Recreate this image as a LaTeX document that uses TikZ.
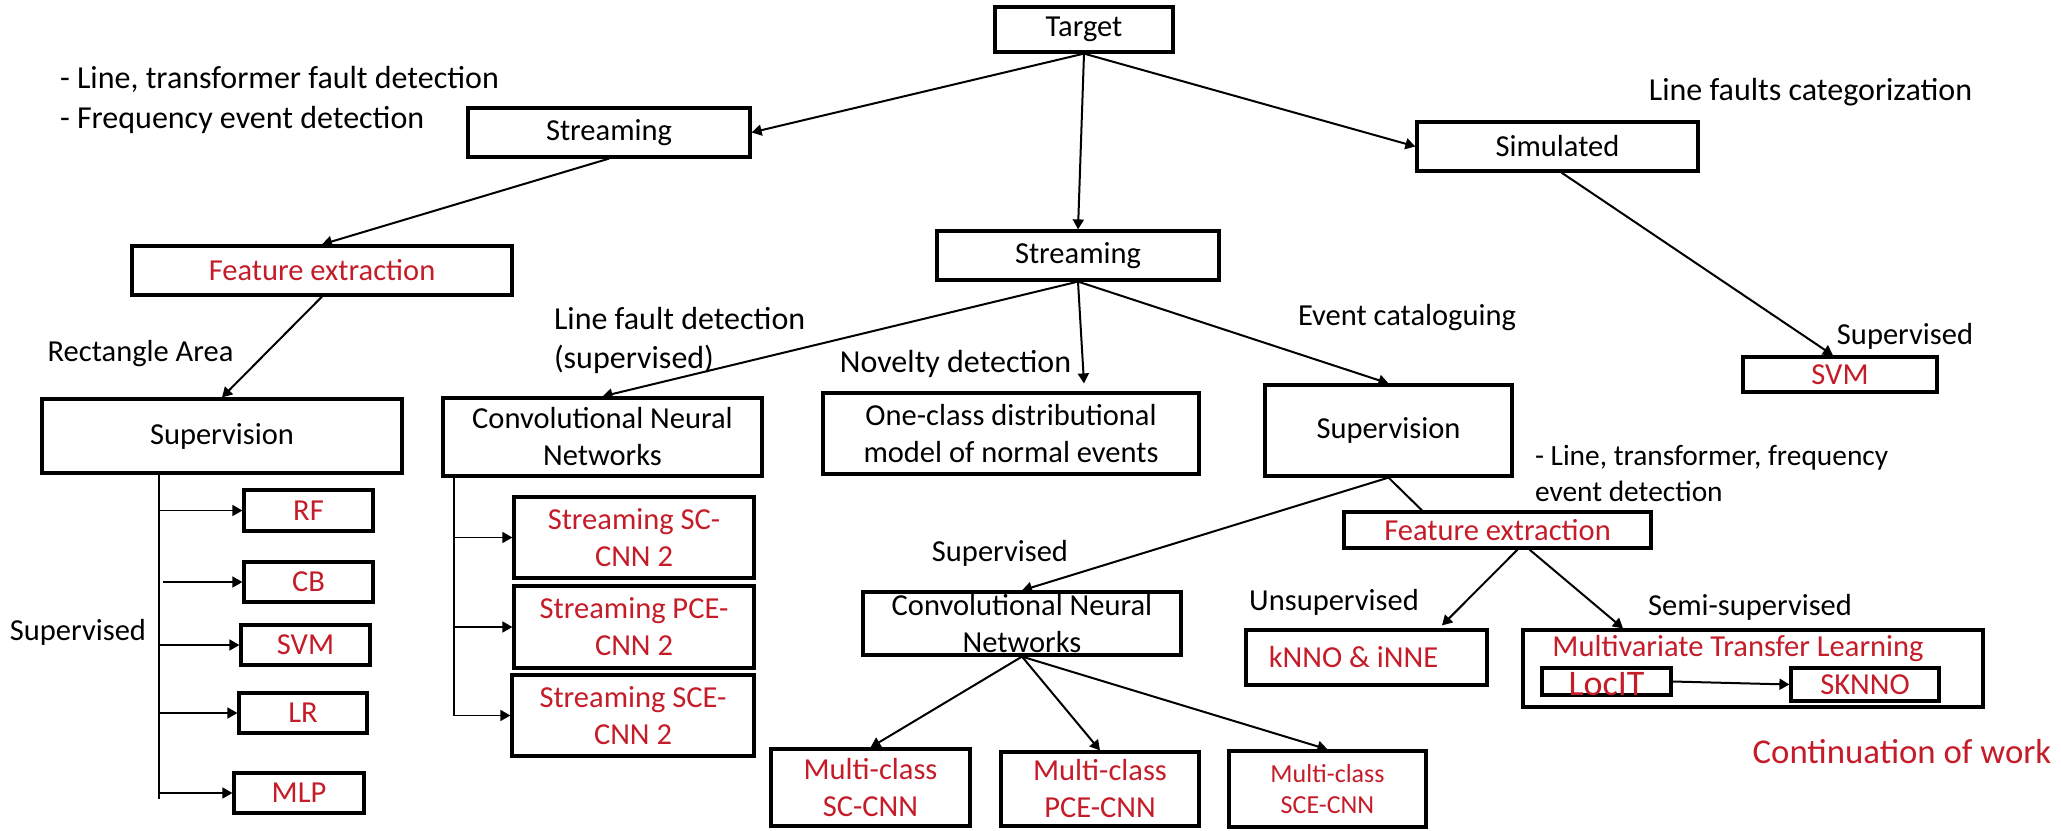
\documentclass[tikz,border=0pt]{standalone}
\usepackage{fontspec}
\setmainfont{Carlito}
\usetikzlibrary{arrows.meta}
\definecolor{mlred}{RGB}{196,28,40}

\begin{document}
\begin{tikzpicture}[x=0.5pt, y=-0.5pt, >={Triangle[length=5pt,width=5.5pt]}, line width=1pt,
    font=\fontsize{15.25}{18.5}\selectfont]

    \tikzstyle{box} = [rectangle, draw=black, line width=1.6pt, inner sep=0pt, align=center]
    \tikzstyle{redbox} = [box, text=mlred]
    \tikzstyle{lbl} = [inner sep=0pt, align=left]

    \useasboundingbox (0,0) rectangle (2061,830);

    % top level
    \node (target)   [box, minimum width=89pt, minimum height=22.5pt]    at (1084,29.5)   {Target};
    \node (stream_l) [box, minimum width=141pt, minimum height=24.5pt]   at (609,132.5)   {Streaming};
    \node (stream_m) [box, minimum width=141pt, minimum height=24.5pt]   at (1078,255.5)  {Streaming};
    \node (simul)    [box, minimum width=140.5pt, minimum height=24.5pt] at (1557.5,146.5) {Simulated};

    % left branch
    \node (feat_l)   [redbox, minimum width=190pt, minimum height=24.5pt] at (322,270.5) {Feature extraction};
    \node (superv_l) [box, minimum width=180pt, minimum height=37pt]      at (222,436)   {Supervision};
    \node (rf)       [redbox, minimum width=64.5pt, minimum height=20.5pt] at (308.5,510.5) {RF};
    \node (cb)       [redbox, minimum width=64.5pt, minimum height=20pt]   at (308.5,582)   {CB};
    \node (svm_l)    [redbox, minimum width=64.5pt, minimum height=20pt]   at (305.5,645)   {SVM};
    \node (lr)       [redbox, minimum width=64pt, minimum height=20pt]     at (303,713)     {LR};
    \node (mlp)      [redbox, minimum width=65pt, minimum height=20pt]     at (299,793)     {MLP};

    % streaming branch
    \node (cnn_l)    [box, minimum width=159.5pt, minimum height=39pt]   at (602.5,437) {Convolutional Neural\\Networks};
    \node (scnn1)    [redbox, minimum width=120pt, minimum height=40.5pt] at (634,537.5) {Streaming SC-\\CNN 2};
    \node (scnn2)    [redbox, minimum width=120pt, minimum height=41pt]   at (634,627)   {Streaming PCE-\\CNN 2};
    \node (scnn3)    [redbox, minimum width=121pt, minimum height=40.5pt] at (633,715.5) {Streaming SCE-\\CNN 2};
    \node (oneclass) [box, minimum width=188pt, minimum height=40.5pt]   at (1011,433.5) {One-class distributional\\model of normal events};
    \node (superv_r) [box, minimum width=123.5pt, minimum height=45.5pt] at (1388.5,430.5) {Supervision};

    \node (cnn_m)    [box, minimum width=159pt, minimum height=31.5pt, text height=30pt, text depth=1.5pt] at (1022,623.5) {Convolutional Neural\\Networks};
    \node (mc_sc)    [redbox, minimum width=99.5pt, minimum height=38.5pt] at (870.5,787.5) {Multi-class\\SC-CNN};
    \node (mc_pce)   [redbox, minimum width=99pt, minimum height=37pt]     at (1100,789)   {Multi-class\\PCE-CNN};
    \node (mc_sce)   [redbox, minimum width=98.5pt, minimum height=38pt, font=\fontsize{13}{15.5}\selectfont] at (1327.5,789) {Multi-class\\SCE-CNN};

    \node (feat_r)   [redbox, minimum width=153.5pt, minimum height=18pt] at (1497.5,530) {Feature extraction};
    \node (knno)     [redbox, minimum width=120.5pt, minimum height=27.5pt] at (1366.5,657.5) {kNNO \& iNNE\hspace*{13pt}};
    \node (mtl)      [box, minimum width=230pt, minimum height=38.5pt]    at (1753,668.5) {};
    \node (mtl_title)[lbl, text=mlred] at (1738,649) {Multivariate Transfer Learning};
    \node (locit)    [redbox, minimum width=64.5pt, minimum height=13.5pt, text height=13.5pt, text depth=0pt,
                      font=\fontsize{18}{20}\selectfont] at (1606.5,681.5) {LocIT};
    \node (sknno)    [redbox, minimum width=74pt, minimum height=16.5pt]  at (1865,684.5) {SKNNO};

    % simulated branch
    \node (svm_r)    [redbox, minimum width=97pt, minimum height=17.5pt]  at (1840,374.5) {SVM};

    % labels
    \node (txt_fault)  [lbl, anchor=west, font=\fontsize{16}{20}\selectfont] at (59,100)
        {- Line, transformer fault detection\\- Frequency event detection};
    \node (txt_categ)  [lbl, font=\fontsize{16}{18.5}\selectfont] at (1810.5,92)  {Line faults categorization};
    \node (txt_rect)   [lbl] at (140.5,354)  {Rectangle Area};
    \node (txt_linef)  [lbl, anchor=west, font=\fontsize{16}{19.5}\selectfont] at (553,340)
        {Line fault detection\\(supervised)};
    \node (txt_novel)  [lbl, font=\fontsize{16}{18.5}\selectfont] at (955.5,364)  {Novelty detection};
    \node (txt_event)  [lbl] at (1407,318)   {Event cataloguing};
    \node (txt_sup_r)  [lbl] at (1905,336)   {Supervised};
    \node (txt_ltf)    [lbl, anchor=west, font=\fontsize{14.7}{18}\selectfont] at (1534,473)
        {- Line, transformer, frequency\\event detection};
    \node (txt_sup_m)  [lbl] at (1000,553)   {Supervised};
    \node (txt_sup_l)  [lbl] at (78,632)     {Supervised};
    \node (txt_unsup)  [lbl] at (1334,602)   {Unsupervised};
    \node (txt_semi)   [lbl] at (1750,607)   {Semi-supervised};
    \node (txt_cont)   [lbl, text=mlred, font=\fontsize{17.4}{20}\selectfont] at (1902,752) {Continuation of work};

    % connectors
    \path[->]  (target.south)   edge  (stream_l.east);
    \path[->]  (target.south)   edge  (stream_m.north);
    \path[->]  (target.south)   edge  (simul.west);
    \path[->]  (stream_l.south) edge  (feat_l.north);
    \path[->]  (feat_l.south)   edge  (superv_l.north);
    \path[->]  (stream_m.south) edge  (cnn_l.north);
    \path[->]  (stream_m.south) edge  ([xshift=36.5pt,yshift=4pt]oneclass.north);
    \path[->]  (stream_m.south) edge  (superv_r.north);
    \path[->]  ([xshift=2pt]simul.south) edge ([xshift=-3.5pt]svm_r.north);
    \path[->]  (superv_r.south) edge  (cnn_m.north);
    \path      (superv_r.south) edge  ([xshift=-37.75pt]feat_r.north);
    \path[->]  ([xshift=10pt]feat_r.south) edge ([xshift=37.75pt,yshift=1.5pt]knno.north);
    \path[->]  ([xshift=16pt]feat_r.south) edge ([xshift=-65pt]mtl.north);
    \path[->]  (cnn_m.south)    edge  (mc_sc.north);
    \path[->]  (cnn_m.south)    edge  (mc_pce.north);
    \path[->]  (cnn_m.south)    edge  (mc_sce.north);
    \path[->]  (locit.east)     edge  (sknno.west);

    % left tree
    \coordinate (spine_l) at ([xshift=-31.5pt]superv_l.south);
    \coordinate (spine_l_end) at ([yshift=-3pt]spine_l |- mlp.west);
    \draw[line width=0.6pt] (spine_l) -- (spine_l_end);
    \path[->, line width=0.8pt]  (spine_l |- rf.west)    edge  (rf.west);
    \path[->, line width=0.8pt]  ([xshift=2pt]spine_l |- cb.west) edge (cb.west);
    \path[->, line width=0.8pt]  (spine_l |- svm_l.west) edge  (svm_l.west);
    \path[->, line width=0.8pt]  (spine_l |- lr.west)    edge  (lr.west);
    \path[->, line width=0.8pt]  (spine_l |- mlp.west)   edge  (mlp.west);

    % streaming cnn tree
    \coordinate (spine_c) at ([xshift=-74.25pt]cnn_l.south);
    \draw[line width=0.6pt] (spine_c) -- (spine_c |- scnn3.west);
    \path[->, line width=0.8pt]  (spine_c |- scnn1.west) edge  (scnn1.west);
    \path[->, line width=0.8pt]  (spine_c |- scnn2.west) edge  (scnn2.west);
    \path[->, line width=0.8pt]  (spine_c |- scnn3.west) edge  (scnn3.west);
\end{tikzpicture}
\end{document}
